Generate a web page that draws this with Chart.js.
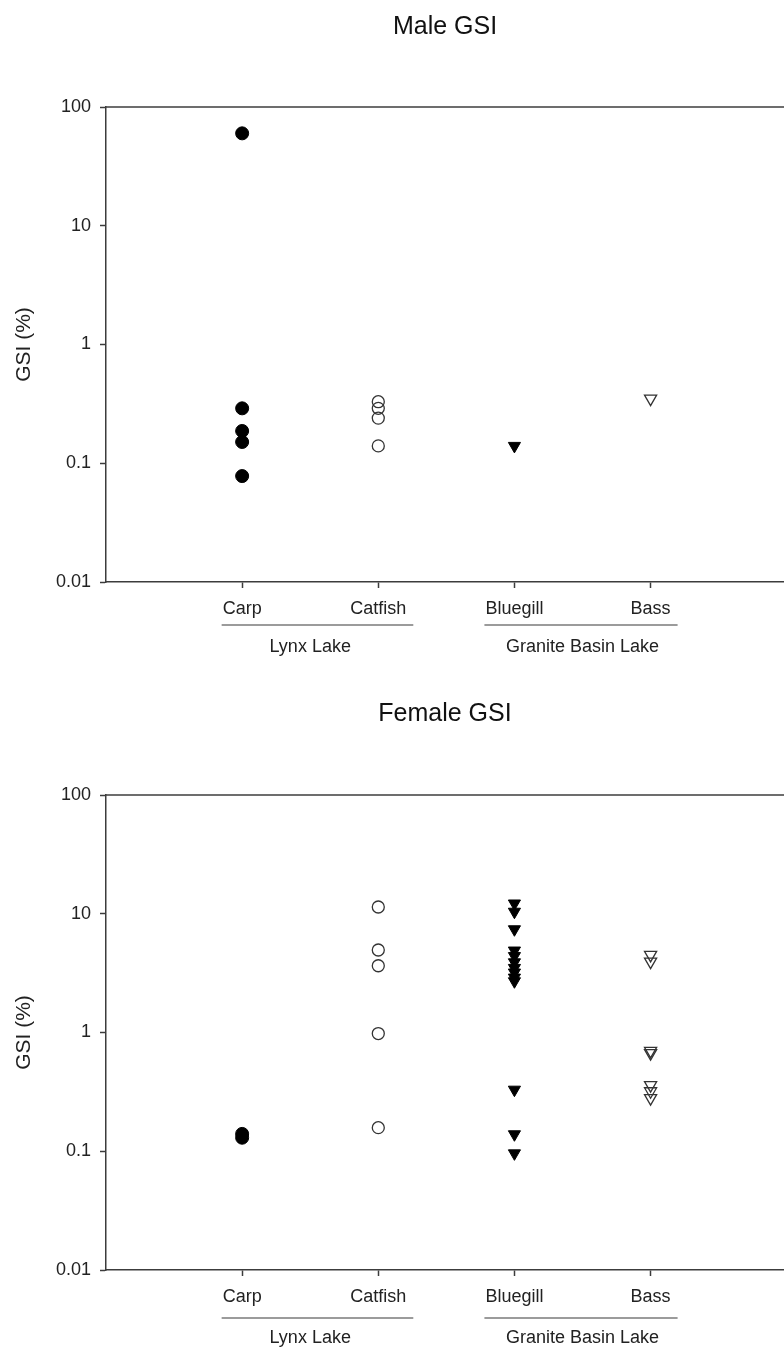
<!DOCTYPE html>
<html>
<head>
<meta charset="utf-8">
<script src="https://cdn.jsdelivr.net/npm/chart.js"></script>
<style>
  html, body { margin: 0; padding: 0; background: #fff; }
  .panel { position: relative; width: 784px; }
</style>
</head>
<body>
<div class="panel" style="height:687px"><canvas id="maleChart"></canvas></div>
<div class="panel" style="height:662px"><canvas id="femaleChart"></canvas></div>
<script>
const categories = ['Carp', 'Catfish', 'Bluegill', 'Bass'];
const lakes = ['Lynx Lake', 'Lynx Lake', 'Granite Basin Lake', 'Granite Basin Lake'];
const yTicks = [0.01, 0.1, 1, 10, 100];

// male GSI (%), one array per species
const maleCarp = [60, 0.29, 0.187, 0.151, 0.078];
const maleCatfish = [0.33, 0.29, 0.24, 0.14];
const maleBluegill = [0.14];
const maleBass = [0.35];

// female GSI (%)
const femaleCarp = [0.14, 0.13];
const femaleCatfish = [11.4, 4.95, 3.65, 0.98, 0.158];
const femaleBluegill = [12.2, 10.4, 7.4, 4.9, 4.4, 3.9, 3.5, 3.2, 2.9, 2.7, 0.33, 0.139, 0.096];
const femaleBass = [4.5, 3.95, 0.7, 0.67, 0.36, 0.32, 0.28];

const FONT = '"Liberation Sans", Arial, sans-serif';
const AXIS = '#3c3c3c';

const markers = [
	{ pointStyle: 'circle', pointRadius: 6.5, backgroundColor: '#000', borderColor: '#000', borderWidth: 1, pointRotation: 0 },
	{ pointStyle: 'circle', pointRadius: 6, backgroundColor: 'rgba(0,0,0,0)', borderColor: '#333', borderWidth: 1.3, pointRotation: 0 },
	{ pointStyle: 'triangle', pointRadius: 7, backgroundColor: '#000', borderColor: '#000', borderWidth: 1, pointRotation: 180 },
	{ pointStyle: 'triangle', pointRadius: 7, backgroundColor: 'rgba(0,0,0,0)', borderColor: '#333', borderWidth: 1.3, pointRotation: 180 }
];

// top frame line + lake brackets under the species names
const lakeGroups = {
	id: 'lakeGroups',
	afterDraw(chart, args, opts) {
		const { ctx, chartArea, scales } = chart;
		ctx.save();
		ctx.strokeStyle = AXIS;
		ctx.lineWidth = 1.5;
		ctx.beginPath();
		ctx.moveTo(chartArea.left, chartArea.top);
		ctx.lineTo(chartArea.right, chartArea.top);
		ctx.stroke();

		ctx.font = '18px ' + FONT;
		ctx.fillStyle = '#222';
		ctx.textAlign = 'center';
		ctx.textBaseline = 'middle';
		const names = [...new Set(lakes)];
		names.forEach(name => {
			const idx = [];
			lakes.forEach((l, i) => { if (l === name) idx.push(i); });
			const first = idx[0], last = idx[idx.length - 1];
			const p0 = scales.x.getPixelForValue(first + 1);
			const p1 = scales.x.getPixelForValue(last + 1);
			const x0 = p0 - ctx.measureText(categories[first]).width / 2 - 1;
			const x1 = p1 + ctx.measureText(categories[last]).width / 2 + 7;
			const ly = chartArea.bottom + opts.lineGap;
			ctx.strokeStyle = '#7a7a7a';
			ctx.lineWidth = 1.5;
			ctx.beginPath();
			ctx.moveTo(x0, ly);
			ctx.lineTo(x1, ly);
			ctx.stroke();
			ctx.fillText(name, (p0 + p1) / 2, chartArea.bottom + opts.labelGap);
		});
		ctx.restore();
	}
};

function makeChart(id, title, series, geom) {
	const datasets = series.map((vals, i) => Object.assign({
		label: categories[i],
		data: vals.map(v => ({ x: i + 1, y: v }))
	}, markers[i]));

	return new Chart(document.getElementById(id), {
		type: 'scatter',
		data: { datasets: datasets },
		options: {
			responsive: true,
			maintainAspectRatio: false,
			animation: false,
			layout: { padding: 0, autoPadding: false },
			plugins: {
				legend: { display: false },
				tooltip: { enabled: false },
				title: {
					display: true,
					fullSize: false,
					text: title,
					color: '#111',
					font: { family: FONT, size: 25, weight: 'normal' },
					padding: { top: geom.titleTop, bottom: geom.titleGap }
				},
				lakeGroups: { lineGap: geom.lineGap, labelGap: geom.labelGap }
			},
			scales: {
				x: {
					type: 'linear',
					min: 0,
					max: 4.98,
					afterBuildTicks: s => { s.ticks = categories.map((c, i) => ({ value: i + 1 })); },
					afterFit: s => {
						s.height = geom.axisHeight;
						s.paddingLeft = 0;
						s.paddingRight = 0;
					},
					ticks: {
						callback: v => categories[v - 1],
						color: '#222',
						font: { family: FONT, size: 18 },
						padding: 10,
						maxRotation: 0,
						autoSkip: false
					},
					grid: { drawOnChartArea: false, tickLength: 6, tickColor: AXIS, tickWidth: 1.5 },
					border: { color: AXIS, width: 1.5 }
				},
				y: {
					type: 'logarithmic',
					min: 0.01,
					max: 100,
					afterBuildTicks: s => { s.ticks = yTicks.map(v => ({ value: v })); },
					afterFit: s => { s.width = 106; },
					ticks: {
						callback: v => String(v),
						color: '#222',
						font: { family: FONT, size: 18 },
						padding: 9
					},
					title: {
						display: true,
						text: 'GSI (%)',
						color: '#222',
						font: { family: FONT, size: 21 },
						padding: { top: 11.4, bottom: 0 }
					},
					grid: { drawOnChartArea: false, tickLength: 6, tickColor: AXIS, tickWidth: 1.5 },
					border: { color: AXIS, width: 1.5 }
				}
			}
		},
		plugins: [lakeGroups]
	});
}

makeChart('maleChart', 'Male GSI',
	[maleCarp, maleCatfish, maleBluegill, maleBass],
	{ titleTop: 12, titleGap: 65, axisHeight: 105, lineGap: 43, labelGap: 65 });

makeChart('femaleChart', 'Female GSI',
	[femaleCarp, femaleCatfish, femaleBluegill, femaleBass],
	{ titleTop: 12, titleGap: 66, axisHeight: 79, lineGap: 48, labelGap: 68 });
</script>
</body>
</html>
